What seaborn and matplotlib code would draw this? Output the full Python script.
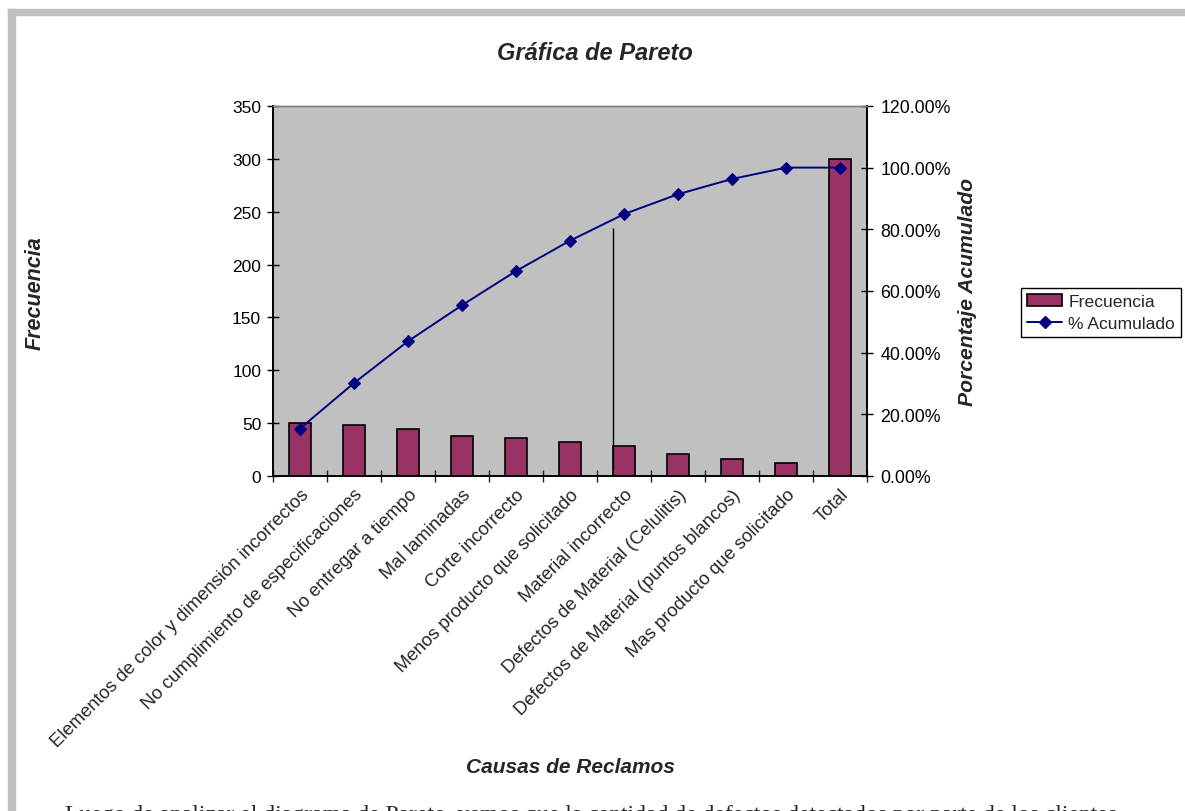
import matplotlib
matplotlib.use('Agg')
import matplotlib.pyplot as plt
import seaborn as sns
from matplotlib.patches import Rectangle, Patch
from matplotlib.lines import Line2D
from matplotlib.ticker import FixedLocator, FuncFormatter

# Datos
causas = ['Elementos de color y dimensión incorrectos',
          'No cumplimiento de especificaciones',
          'No entregar a tiempo',
          'Mal laminadas',
          'Corte incorrecto',
          'Menos producto que solicitado',
          'Material incorrecto',
          'Defectos de Material (Celulitis)',
          'Defectos de Material (puntos blancos)',
          'Mas producto que solicitado',
          'Total']
frecuencia = [50, 48, 44, 38, 36, 32, 28, 21, 16, 12, 300]
acumulado = [15.38, 30.15, 43.69, 55.38, 66.46, 76.31, 84.92, 91.38, 96.31, 100.0, 100.0]
posiciones = list(range(len(causas)))

sns.set_style('white')
plt.rcParams['font.family'] = ['Liberation Sans', 'DejaVu Sans']

fig = plt.figure(figsize=(11.85, 8.12), dpi=100)
ax = fig.add_axes([0.2304, 0.4126, 0.5013, 0.4557])
ax.set_facecolor('#C0C0C0')

# Barras de frecuencia
sns.barplot(x=causas, y=frecuencia, color='#993366', edgecolor='black',
            linewidth=1.2, width=0.41, saturation=1, ax=ax, zorder=2)
ax.set_xlim(-0.5, len(causas) - 0.5)
ax.set_ylim(0, 350)
ax.set_yticks(range(0, 351, 50))
ax.tick_params(axis='y', direction='inout', length=9, width=1, labelsize=12.5, pad=4,
               left=True, colors='black')
ax.set_xticks(posiciones)
ax.set_xticklabels(causas, rotation=45, ha='right', rotation_mode='anchor', fontsize=13.3)
ax.tick_params(axis='x', length=0, pad=7)
ax.xaxis.set_minor_locator(FixedLocator([p - 0.5 for p in posiciones] + [len(causas) - 0.5]))
ax.tick_params(axis='x', which='minor', direction='inout', length=9, width=1, bottom=True)
ax.set_xlabel('')
ax.set_ylabel('')

# linea vertical de referencia
ax.vlines(6 - 0.205, 7, 235, color='black', linewidth=1, zorder=3)

# Porcentaje acumulado
ax2 = ax.twinx()
sns.lineplot(x=posiciones, y=acumulado, color='#000080', marker='D', markersize=6.5,
             markeredgecolor='#000080', linewidth=1.4, ax=ax2)
ax2.set_ylim(0, 120)
ax2.set_yticks(range(0, 121, 20))
ax2.yaxis.set_major_formatter(FuncFormatter(lambda v, p: '%.2f%%' % v))
ax2.tick_params(axis='y', direction='inout', length=9, width=1, labelsize=12.8, pad=5,
                right=True, colors='black')
ax2.set_ylabel('')

for a in (ax, ax2):
    for s in a.spines.values():
        s.set_color('#808080')
        s.set_linewidth(1)
    for lado in ('left', 'bottom', 'right'):
        a.spines[lado].set_color('black')
        a.spines[lado].set_linewidth(1.2)

# Textos
fig.text(0.502, 1 - 53 / 812, 'Gráfica de Pareto', ha='center', va='center',
         fontsize=17, fontweight='bold', fontstyle='italic')
fig.text(35 / 1185, 1 - 293 / 812, 'Frecuencia', rotation=90, ha='center', va='center',
         fontsize=15.5, fontweight='bold', fontstyle='italic')
fig.text(968 / 1185, 1 - 292 / 812, 'Porcentaje Acumulado', rotation=90, ha='center',
         va='center', fontsize=15.2, fontweight='bold', fontstyle='italic')
fig.text(570 / 1185, 1 - 768 / 812, 'Causas de Reclamos', ha='center', va='center',
         fontsize=15, fontweight='bold', fontstyle='italic')

# Leyenda
handles = [Patch(facecolor='#993366', edgecolor='black', linewidth=1.2),
           Line2D([0], [0], color='#000080', marker='D', markersize=6, linewidth=1.4)]
fig.legend(handles, ['Frecuencia', '% Acumulado'], loc='upper left',
           bbox_to_anchor=(1021 / 1185, 1 - 289 / 812), fontsize=12.6, frameon=True,
           fancybox=False, edgecolor='black', framealpha=1, borderpad=0.35,
           handlelength=2.0, handletextpad=0.35, labelspacing=0.35, borderaxespad=0)

# Marco gris del objeto grafico
fig.patches.append(Rectangle((8 / 1185, 1 - 16 / 812), 1, 6 / 812,
                             transform=fig.transFigure, color='#C0C0C0', zorder=0))
fig.patches.append(Rectangle((8 / 1185, 0), 7 / 1185, 1 - 10 / 812,
                             transform=fig.transFigure, color='#C0C0C0', zorder=0))

# Texto del documento, cortado por el borde inferior como en la pagina original
fig.text(65 / 1185, -9 / 812,
         'Luego de analizar el diagrama de Pareto, vemos que la cantidad de defectos detectados por parte de los clientes',
         ha='left', va='baseline', fontsize=17, family=['Liberation Serif', 'DejaVu Serif'])

fig.savefig('out.png', dpi=100)
